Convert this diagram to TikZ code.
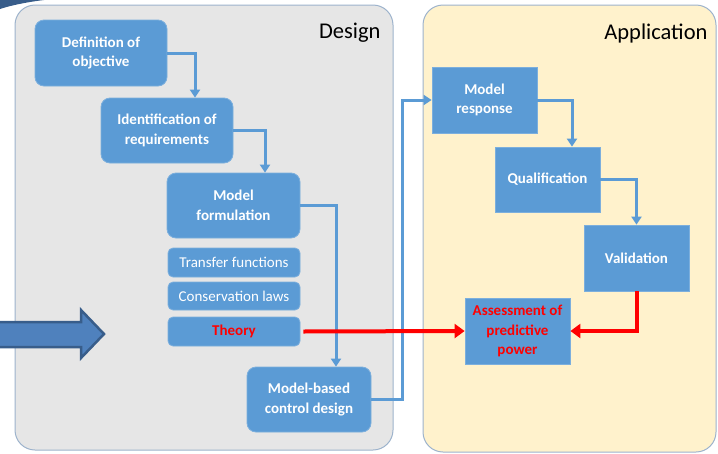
\documentclass[tikz,border=0pt]{standalone}
\usepackage{fontspec}
\setmainfont{Carlito}
\usetikzlibrary{arrows.meta}

\definecolor{boxblue}{HTML}{5B9BD5}
\definecolor{panelgray}{HTML}{E6E6E6}
\definecolor{panelline}{HTML}{9DB3CC}
\definecolor{panelyellow}{HTML}{FFF2CC}
\definecolor{arrowdark}{HTML}{385D8A}
\definecolor{arrowfill}{HTML}{4F81BD}

\begin{document}
\begin{tikzpicture}[x=1pt,y=-1pt,
  panel/.style={draw=panelline, line width=1pt, rounded corners=20pt},
  stage/.style={fill=boxblue, draw=boxblue!80!white, line width=0.8pt,
    rounded corners=9pt, text=white, font=\fontsize{15}{19.5}\selectfont\bfseries,
    align=center, inner sep=0pt},
  substage/.style={stage, rounded corners=5pt, font=\fontsize{15}{18}\selectfont},
  appstep/.style={stage, rounded corners=0pt},
  flow/.style={draw=boxblue, line width=3pt, -{Triangle[width=10pt,length=8pt]}},
  redflow/.style={draw=red, line width=4pt, -{Triangle[width=14pt,length=10pt]}}]

  \useasboundingbox (0,0) rectangle (718,453);

  % panels
  \draw[panel, fill=panelgray] (15,5) rectangle (393,450);
  \draw[panel, fill=panelyellow] (423,5) rectangle (716,452);
  \node[anchor=east, font=\fontsize{22.5}{26}\selectfont] (design) at (384,33) {Design};
  \node[anchor=east, font=\fontsize{22.5}{26}\selectfont] (appl) at (711,33) {Application};

  % corner sliver
  \fill[arrowdark] (0,0) -- (44,0) .. controls (28,2) and (12,5) .. (0,9) -- cycle;

  % design stages
  \node[stage, minimum width=132pt, minimum height=66pt] (def) at (101,53) {Definition of\\objective};
  \node[stage, minimum width=132pt, minimum height=65pt] (ident) at (167,130.5) {Identification of\\requirements};
  \node[stage, minimum width=133pt, minimum height=65pt] (form) at (233.5,205.5) {Model\\formulation};
  \node[substage, minimum width=132pt, minimum height=29pt] (tf) at (234,262.5) {Transfer functions};
  \node[substage, minimum width=132pt, minimum height=28pt] (cl) at (234,296) {Conservation laws};
  \node[substage, minimum width=132pt, minimum height=29pt, text=red, font=\fontsize{15}{18}\selectfont\bfseries] (th) at (234,331.5) {Theory};
  \node[stage, minimum width=124pt, minimum height=65pt] (mbcd) at (309,399.5) {Model-based\\control design};

  % application steps
  \node[appstep, minimum width=105pt, minimum height=66pt] (resp) at (484.5,100) {Model\\response};
  \node[appstep, minimum width=105pt, minimum height=65pt] (qual) at (547.5,179.5) {Qualification};
  \node[appstep, minimum width=105pt, minimum height=66pt] (val) at (636.5,258) {Validation};
  \node[appstep, minimum width=105pt, minimum height=66pt, text=red] (assess) at (517.5,331) {Assessment of\\predictive\\power};

  % input arrow
  \draw[arrowdark, fill=arrowfill, line width=2.5pt, line join=miter]
    (-5,322) -- (81,322) -- (81,310) -- (104,334) -- (81,358) -- (81,347) -- (-5,347) -- cycle;

  % connectors
  \draw[flow] (def.east) -| ([xshift=28pt]ident.north);
  \draw[flow] (ident.east) -| ([xshift=31.5pt]form.north);
  \draw[flow] (form.east) -| ([xshift=27pt]mbcd.north);
  \draw[flow] (mbcd.east) -- ++(31,0) |- (resp.west);
  \draw[flow] (resp.east) -| ([xshift=24.5pt]qual.north);
  \draw[flow] (qual.east) -| (val.north);
  \draw[redflow] ([xshift=3pt]th.east) -- (assess.west);
  \draw[redflow] (val.south) |- (assess.east);
\end{tikzpicture}
\end{document}
